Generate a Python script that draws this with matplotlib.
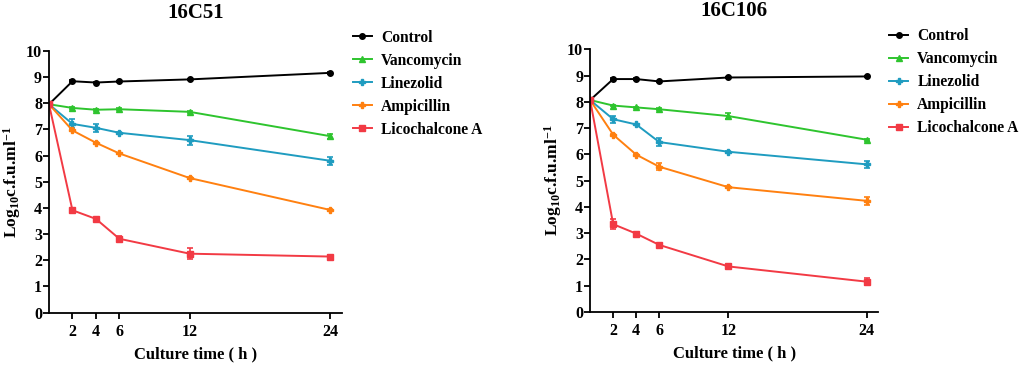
import matplotlib
matplotlib.use("Agg")
import matplotlib.pyplot as plt
from matplotlib.lines import Line2D

plt.rcParams["font.family"] = ["Liberation Serif", "DejaVu Serif"]
plt.rcParams["font.weight"] = "bold"
plt.rcParams["mathtext.fontset"] = "custom"
plt.rcParams["mathtext.rm"] = "Liberation Serif:bold"
plt.rcParams["mathtext.it"] = "Liberation Serif:bold"
plt.rcParams["mathtext.bf"] = "Liberation Serif:bold"

time_h = [0, 2, 4, 6, 12, 24]
series_names = ["Control", "Vancomycin", "Linezolid", "Ampicillin", "Licochalcone A"]
series_colors = ["#000000", "#2ec42e", "#1f9cc0", "#ff8010", "#f23a44"]
series_markers = ["o", "^", "P", "P", "s"]

# 16C51
c51_control = [7.96, 8.84, 8.79, 8.83, 8.91, 9.16]
c51_vanco = [7.96, 7.82, 7.75, 7.77, 7.67, 6.74]
c51_linez = [7.96, 7.21, 7.06, 6.87, 6.59, 5.80]
c51_ampi = [7.96, 6.96, 6.49, 6.08, 5.14, 3.92]
c51_lico = [7.96, 3.91, 3.58, 2.82, 2.25, 2.14]
c51_err = [
    [0.03, 0.03, 0.03, 0.03, 0.03, 0.04],
    [0.03, 0.03, 0.03, 0.03, 0.04, 0.09],
    [0.03, 0.17, 0.15, 0.04, 0.17, 0.15],
    [0.03, 0.04, 0.03, 0.03, 0.03, 0.03],
    [0.03, 0.05, 0.05, 0.10, 0.20, 0.06],
]

# 16C106
c106_control = [8.07, 8.87, 8.87, 8.78, 8.93, 8.97]
c106_vanco = [8.07, 7.86, 7.79, 7.72, 7.46, 6.56]
c106_linez = [8.07, 7.34, 7.14, 6.47, 6.10, 5.62]
c106_ampi = [8.07, 6.75, 5.99, 5.53, 4.75, 4.23]
c106_lico = [8.07, 3.34, 2.98, 2.55, 1.73, 1.15]
c106_err = [
    [0.03, 0.03, 0.03, 0.03, 0.03, 0.03],
    [0.03, 0.03, 0.03, 0.03, 0.13, 0.04],
    [0.03, 0.14, 0.03, 0.14, 0.03, 0.13],
    [0.03, 0.03, 0.03, 0.14, 0.03, 0.15],
    [0.03, 0.20, 0.05, 0.06, 0.05, 0.13],
]

panels = [
    ("16C51", [c51_control, c51_vanco, c51_linez, c51_ampi, c51_lico], c51_err,
     [0.048, 0.146, 0.287, 0.715]),
    ("16C106", [c106_control, c106_vanco, c106_linez, c106_ampi, c106_lico], c106_err,
     [0.578, 0.148, 0.282, 0.717]),
]

fig = plt.figure(figsize=(10.21, 3.66), dpi=100)

for title, data, errs, rect in panels:
    ax = fig.add_axes(rect)
    handles = []
    for name, vals, err, col, mk in zip(series_names, data, errs, series_colors, series_markers):
        ax.errorbar(time_h, vals, yerr=err, color=col, marker=mk, markersize=4,
                    linewidth=1.4, elinewidth=1.2, capsize=2.5, capthick=1.2)
        handles.append(Line2D([], [], color=col, marker=mk, markersize=4,
                              linewidth=1.4, label=name))
    ax.set_xlim(0, 25)
    ax.set_ylim(0, 10)
    ax.set_xticks([2, 4, 6, 12, 24])
    ax.set_yticks(range(0, 11))
    ax.spines["top"].set_visible(False)
    ax.spines["right"].set_visible(False)
    ax.spines["left"].set_linewidth(1.3)
    ax.spines["bottom"].set_linewidth(1.3)
    ax.tick_params(direction="out", length=4, width=1.3, labelsize=11.5)
    ax.tick_params(axis="x", pad=4)
    ax.tick_params(axis="y", pad=1)
    for lab in ax.get_xticklabels() + ax.get_yticklabels():
        lab.set_fontweight("bold")
    ax.set_title(title, fontsize=15, fontweight="bold", pad=24)
    ax.set_xlabel("Culture time ( h )", fontsize=12, fontweight="bold", labelpad=5)
    ax.set_ylabel("Log$_{10}$c.f.u.ml$^{-1}$", fontsize=12.5, fontweight="bold", labelpad=2)
    ax.legend(handles=handles, loc="upper left", bbox_to_anchor=(0.99, 1.135),
              frameon=False, handlelength=1.2, handletextpad=0.6, labelspacing=0.45,
              prop={"weight": "bold", "size": 11.2})

fig.savefig("out.png", dpi=100)
